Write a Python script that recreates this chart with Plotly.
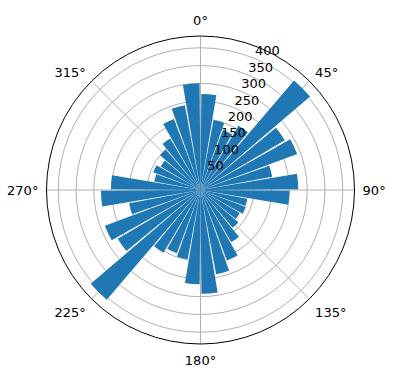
import plotly.graph_objects as go

# bar centres (degrees, clockwise from north) and radial values
angles = [5, 15, 25, 35, 45, 55, 65, 75, 85,
          95, 105, 115, 125, 135, 145, 155, 165, 175,
          185, 195, 205, 215, 225, 235, 245, 255, 265,
          275, 285, 295, 305, 315, 325, 335, 345, 355]
values = [270, 200, 180, 210, 405, 275, 290, 205, 275,
          250, 134, 136, 128, 140, 170, 212, 241, 292,
          265, 198, 190, 205, 406, 270, 287, 204, 280,
          252, 132, 142, 130, 150, 168, 213, 242, 300]
r_ticks = [50, 100, 150, 200, 250, 300, 350, 400]
r_label_angle = 22.5
theta_ticks = [0, 45, 90, 135, 180, 225, 270, 315]
theta_labels = ["0°", "45°", "90°", "135°", "180°", "225°", "270°", "315°"]

fig = go.Figure()
fig.add_trace(go.Barpolar(
    r=values, theta=angles, width=[9] * len(angles),
    marker=dict(color="#1f77b4", line=dict(width=0)),
))
# radial tick labels, placed along the 22.5° line like matplotlib
fig.add_trace(go.Scatterpolar(
    r=r_ticks, theta=[r_label_angle] * len(r_ticks),
    mode="text", text=[str(v) for v in r_ticks],
    textposition="top right",
    textfont=dict(family="DejaVu Sans", size=13, color="black"),
    cliponaxis=False, hoverinfo="skip",
))

W, H = 396, 380
cx, cy, R = 200.5, 190, 154
fig.update_layout(
    width=W, height=H,
    margin=dict(l=0, r=0, t=0, b=0),
    paper_bgcolor="white",
    showlegend=False,
    font=dict(family="DejaVu Sans", size=13, color="black"),
    polar=dict(
        domain=dict(x=[(cx - R) / W, (cx + R) / W],
                    y=[(H - cy - R) / H, (H - cy + R) / H]),
        bgcolor="white",
        bargap=0,
        radialaxis=dict(
            range=[0, 433], tickvals=r_ticks,
            showticklabels=False,
            showline=False, ticks="", angle=67.5,
            gridcolor="#b0b0b0", gridwidth=0.8,
            layer="above traces",
        ),
        angularaxis=dict(
            rotation=90, direction="clockwise",
            tickvals=theta_ticks, ticktext=theta_labels,
            showline=True, linecolor="black", linewidth=1,
            gridcolor="#b0b0b0", gridwidth=0.8,
            ticks="outside", ticklen=5, tickcolor="rgba(0,0,0,0)",
            layer="above traces",
            tickfont=dict(size=13),
        ),
    ),
)
fig.write_html("out.html")
